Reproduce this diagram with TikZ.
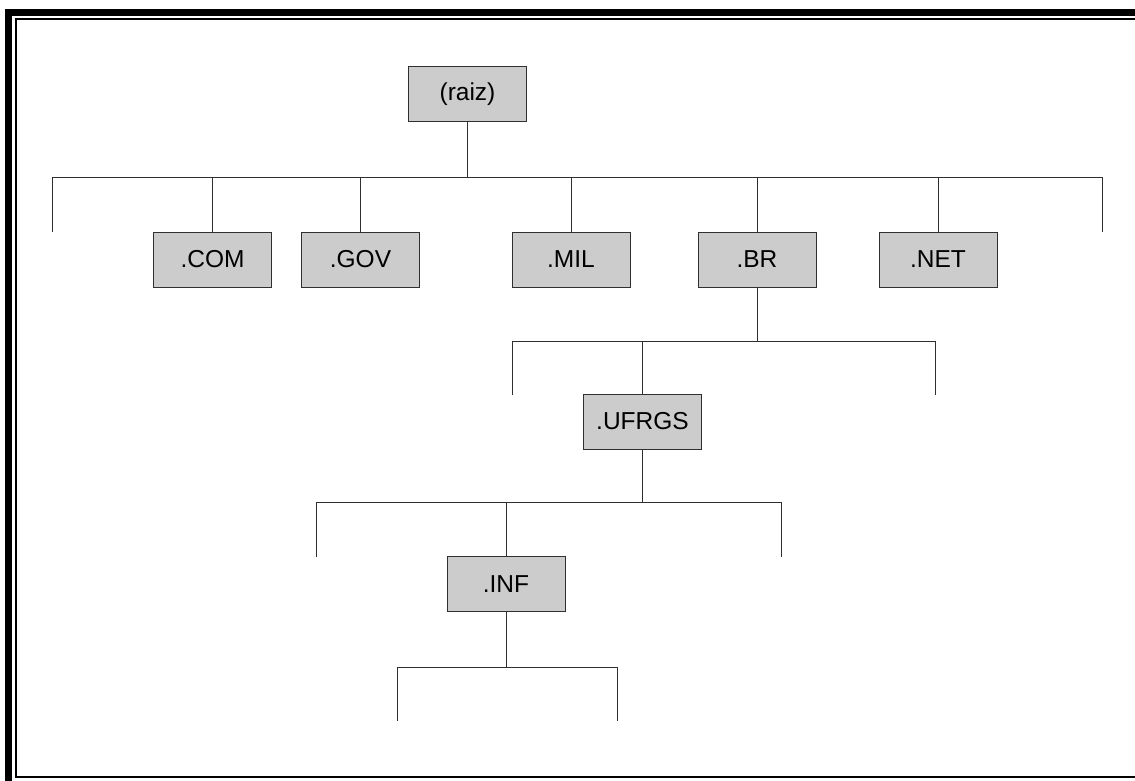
\documentclass[tikz,border=0pt]{standalone}
\usepackage{fontspec}
\setmainfont{Liberation Sans}
\definecolor{boxgray}{HTML}{CCCCCC}
\definecolor{linegray}{HTML}{303030}
\begin{document}
\begin{tikzpicture}[x=1pt,y=-1pt,
  dombox/.style={draw=linegray, fill=boxgray, line width=1pt,
    minimum width=118pt, minimum height=55pt, inner sep=0pt,
    font=\fontsize{24.5}{28}\selectfont},
  link/.style={draw=linegray, line width=1pt}]
\useasboundingbox (0,0) rectangle (1135,781);

% double page frame (runs off the right and bottom edges)
\begin{scope}
  \clip (0,0) rectangle (1135,781);
  \draw[line width=7pt] (8.7,12.6) rectangle (1150,784);
  \draw[line width=2pt] (16,19.5) rectangle (1140,777);
\end{scope}

% domain boxes
\node[dombox] (raiz)  at (467.5,94.5) {(raiz)};
\node[dombox] (com)   at (212.5,259.5) {.COM};
\node[dombox] (gov)   at (360.5,259.5) {.GOV};
\node[dombox] (mil)   at (571,259.5) {.MIL};
\node[dombox] (br)    at (757,259.5) {.BR};
\node[dombox] (net)   at (938,259.5) {.NET};
\node[dombox] (ufrgs) at (642.5,421.5) {.UFRGS};
\node[dombox] (inf)   at (506,584) {.INF};

% bus ends and open drops
\coordinate (busA-l) at (52.7,177);
\coordinate (busA-r) at (1102.7,177);
\coordinate (dropA-l) at (52.7,232);
\coordinate (dropA-r) at (1102.7,232);
\coordinate (busB-l) at (512,341);
\coordinate (busB-r) at (935,341);
\coordinate (dropB-l) at (512,395);
\coordinate (dropB-r) at (935,395);
\coordinate (busC-l) at (316,502);
\coordinate (busC-r) at (781,502);
\coordinate (dropC-l) at (316,557);
\coordinate (dropC-r) at (781,557);
\coordinate (busD-l) at (397,667);
\coordinate (busD-r) at (617,667);
\coordinate (dropD-l) at (397,721);
\coordinate (dropD-r) at (617,721);

% level 1: root
\draw[link] (raiz.south) -- (raiz.south |- busA-l);
\draw[link] (dropA-l) -- (busA-l) -- (busA-r) -- (dropA-r);
\foreach \n in {com,gov,mil,br,net}
  \draw[link] (\n.north) -- (\n.north |- busA-l);

% level 2: .BR
\draw[link] (br.south) -- (br.south |- busB-l);
\draw[link] (dropB-l) -- (busB-l) -- (busB-r) -- (dropB-r);
\draw[link] (ufrgs.north) -- (ufrgs.north |- busB-l);

% level 3: .UFRGS
\draw[link] (ufrgs.south) -- (ufrgs.south |- busC-l);
\draw[link] (dropC-l) -- (busC-l) -- (busC-r) -- (dropC-r);
\draw[link] (inf.north) -- (inf.north |- busC-l);

% level 4: .INF
\draw[link] (inf.south) -- (inf.south |- busD-l);
\draw[link] (dropD-l) -- (busD-l) -- (busD-r) -- (dropD-r);
\end{tikzpicture}
\end{document}
